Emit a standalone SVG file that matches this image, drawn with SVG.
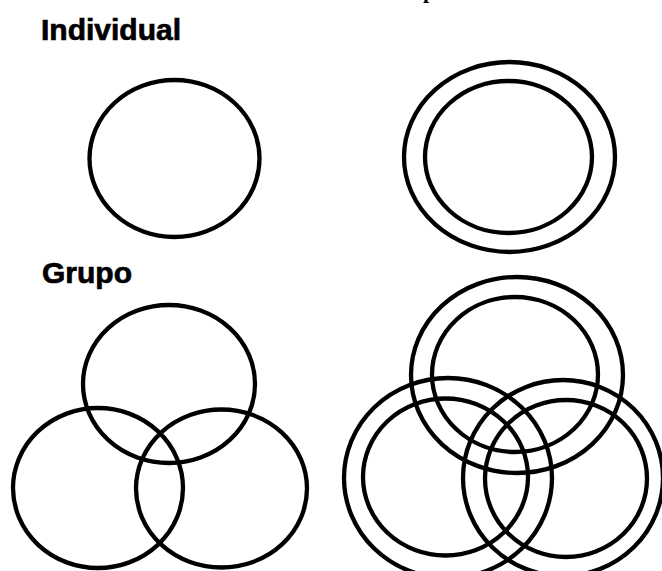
<svg xmlns="http://www.w3.org/2000/svg" width="662" height="571" viewBox="0 0 662 571">
<style>
.lbl{font-family:"Liberation Sans",Arial,sans-serif;font-weight:bold;font-size:30px;fill:#000;stroke:#000;stroke-width:0.7}
.cut{font-family:"Liberation Serif","Times New Roman",serif;font-weight:bold;font-size:22px;fill:#000}
ellipse{fill:none;stroke:#000;stroke-width:4.3}
</style>
<rect width="662" height="571" fill="#fff"/>
<text class="cut" x="423" y="-2">p</text>
<g id="label-individual"><text class="lbl" x="41" y="40">Individual</text></g>
<g id="label-grupo"><text class="lbl" x="42" y="283">Grupo</text></g>
<g id="individual-single"><ellipse cx="174.5" cy="158.5" rx="85" ry="78.5"/></g>
<g id="individual-double">
<ellipse cx="509.5" cy="157" rx="105.5" ry="95"/>
<ellipse cx="508.5" cy="157" rx="83.5" ry="76"/>
</g>
<g id="grupo-single">
<ellipse cx="169" cy="384" rx="86" ry="79"/>
<ellipse cx="98" cy="488" rx="85" ry="80"/>
<ellipse cx="221.5" cy="488.5" rx="85.5" ry="79"/>
</g>
<g id="grupo-double">
<ellipse cx="517" cy="375" rx="106" ry="98"/>
<ellipse cx="515" cy="374.5" rx="83" ry="77.5"/>
<ellipse cx="448" cy="478" rx="104" ry="100"/>
<ellipse cx="445.5" cy="477" rx="82.5" ry="78.5"/>
<ellipse cx="563" cy="478" rx="100" ry="98"/>
<ellipse cx="566" cy="478.5" rx="81" ry="78.5"/>
</g>
</svg>
